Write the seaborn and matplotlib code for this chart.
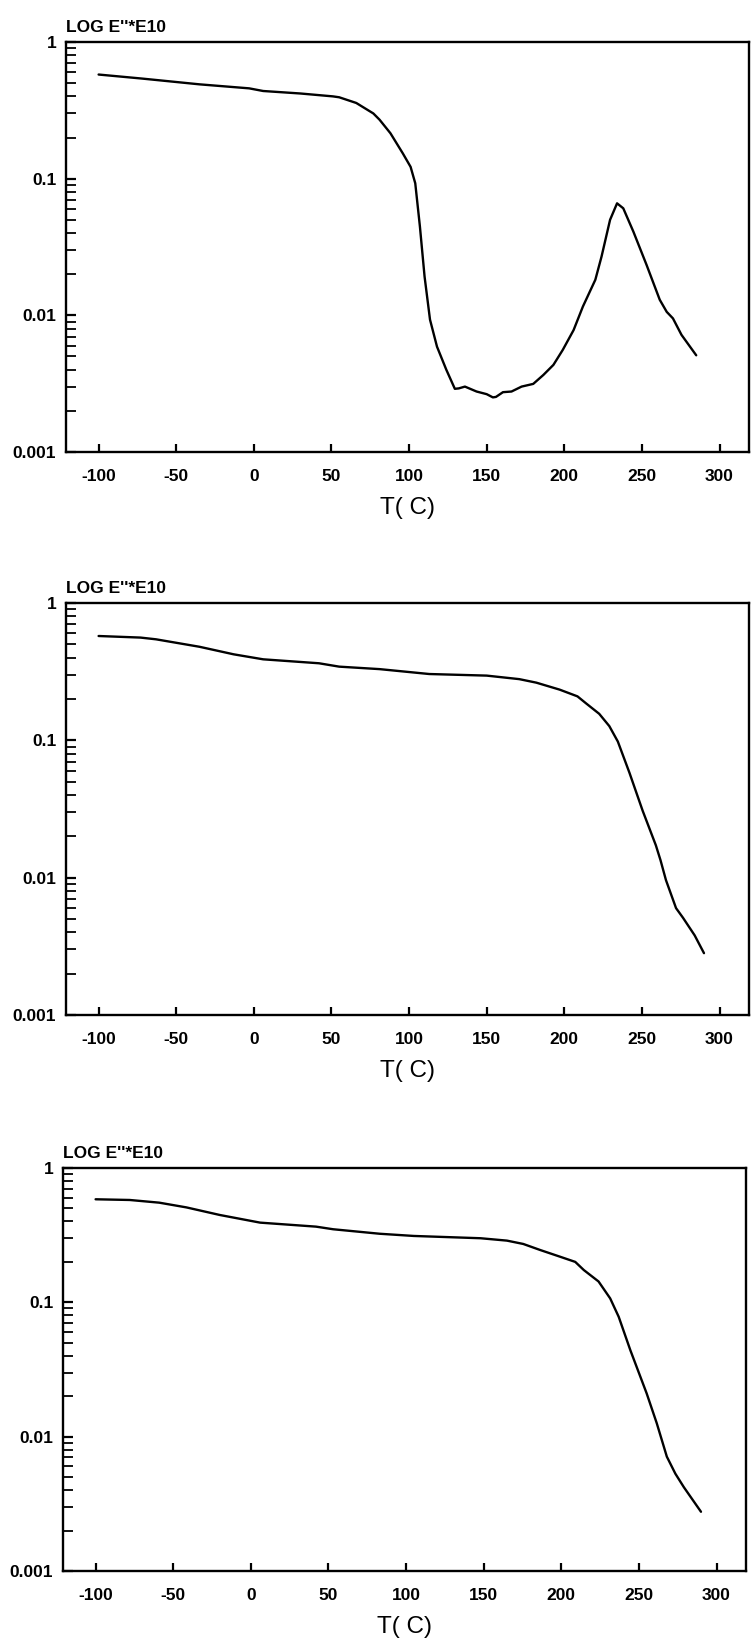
import matplotlib
matplotlib.use("Agg")
import matplotlib.pyplot as plt
from matplotlib.ticker import LogLocator, NullFormatter, FixedLocator, FixedFormatter
import seaborn as sns
import pandas as pd

# Loss modulus E'' (x 1e10) versus temperature, three specimens
temp_a = [-100, -72, -35, -3, 6, 30, 51, 55, 66, 77, 81, 88, 96, 101, 104, 107,
          110, 113.5, 118, 124, 129.5, 132, 136, 143.5, 150, 154, 156, 160.5,
          166, 172.5, 180, 186.5, 193, 199, 206, 212, 220, 224, 229.5, 234,
          238, 244.5, 253, 261.5, 266, 270, 275.5, 285]
modulus_a = [0.578, 0.54, 0.49, 0.458, 0.438, 0.42, 0.40, 0.394, 0.358, 0.30,
             0.27, 0.215, 0.153, 0.122, 0.0925, 0.0446, 0.0192, 0.0093, 0.0059,
             0.0040, 0.0029, 0.00292, 0.00301, 0.00277, 0.00265, 0.00251,
             0.00253, 0.00274, 0.00277, 0.00301, 0.00315, 0.00366, 0.00434,
             0.00558, 0.0078, 0.0116, 0.0182, 0.0269, 0.050, 0.066, 0.0607,
             0.041, 0.0234, 0.013, 0.0106, 0.0095, 0.0072, 0.0051]

temp_b = [-100, -73, -63, -35, -13, 6, 42, 55, 81, 113, 150, 171, 182, 197,
          208.5, 214, 222.5, 229, 234.5, 242, 250.5, 259, 262, 265.5, 272,
          276.5, 284, 290]
modulus_b = [0.575, 0.56, 0.544, 0.48, 0.423, 0.389, 0.364, 0.344, 0.33, 0.304,
             0.296, 0.279, 0.263, 0.234, 0.209, 0.186, 0.156, 0.127, 0.098,
             0.058, 0.0307, 0.0172, 0.0134, 0.0096, 0.006, 0.0051, 0.0038,
             0.00282]

temp_c = [-100, -78, -59, -41.5, -20, 6, 42, 53, 83, 105, 148, 165, 175.5,
          186.5, 199, 209, 214.5, 224, 231.5, 237, 244.5, 255, 261.5, 268,
          273.5, 279, 290]
modulus_c = [0.585, 0.578, 0.552, 0.509, 0.447, 0.392, 0.366, 0.35, 0.324,
             0.312, 0.30, 0.288, 0.272, 0.245, 0.219, 0.200, 0.174, 0.143,
             0.107, 0.078, 0.044, 0.021, 0.0126, 0.0071, 0.0053, 0.0042,
             0.00276]

x_ticks = [-100, -50, 0, 50, 100, 150, 200, 250, 300]
x_tick_labels = ["-100", "-50", "0", "50", "100", "150", "200", "250", "300"]
y_ticks = [0.001, 0.01, 0.1, 1]
y_tick_labels = ["0.001", "0.01", "0.1", "1"]
y_title = "LOG E''*E10"
x_title = "T( C)"

sns.set_style("white")
plt.rcParams["font.family"] = ["Liberation Sans", "DejaVu Sans"]

W, H = 751, 1648
fig = plt.figure(figsize=(W / 100, H / 100), dpi=100)

# panel boxes in pixels: left, top, right, bottom
boxes = [(66, 42, 749, 452), (66, 603, 749, 1015), (63, 1168, 746, 1571)]
series = [(temp_a, modulus_a), (temp_b, modulus_b), (temp_c, modulus_c)]

for (l, t, r, b), (tx, my) in zip(boxes, series):
    ax = fig.add_axes([l / W, 1 - b / H, (r - l) / W, (b - t) / H])
    df = pd.DataFrame({"T": tx, "E": my})
    sns.lineplot(data=df, x="T", y="E", ax=ax, color="black", lw=1.7,
                 sort=False, estimator=None)
    ax.set_yscale("log")
    ax.set_xlim(-121, 319)
    ax.set_ylim(0.001, 1)

    ax.xaxis.set_major_locator(FixedLocator(x_ticks))
    ax.xaxis.set_major_formatter(FixedFormatter(x_tick_labels))
    ax.yaxis.set_major_locator(FixedLocator(y_ticks))
    ax.yaxis.set_major_formatter(FixedFormatter(y_tick_labels))
    ax.yaxis.set_minor_locator(LogLocator(base=10, subs=range(2, 10)))
    ax.yaxis.set_minor_formatter(NullFormatter())
    ax.xaxis.set_minor_locator(FixedLocator([]))

    ax.tick_params(axis="both", which="both", direction="in", bottom=True,
                   left=True, top=False, right=False, color="black",
                   labelcolor="black")
    ax.tick_params(axis="x", which="major", length=6, width=1.6, pad=12,
                   labelsize=12.5)
    ax.tick_params(axis="y", which="major", length=7, width=1.6, pad=7,
                   labelsize=12.5)
    ax.tick_params(axis="y", which="minor", length=7, width=1.3)
    for lab in ax.get_xticklabels() + ax.get_yticklabels():
        lab.set_fontweight("bold")

    for sp in ax.spines.values():
        sp.set_visible(True)
        sp.set_color("black")
        sp.set_linewidth(1.7)

    ax.set_ylabel("")
    ax.set_xlabel(x_title, fontsize=17.5, color="black")
    ax.xaxis.set_label_coords(0.5, -45 / (b - t))
    ax.annotate(y_title, xy=(0, 1), xycoords="axes fraction",
                xytext=(0, 7), textcoords="offset points", color="black",
                ha="left", va="baseline", fontsize=12.5, fontweight="bold")

fig.savefig("out.png", dpi=100, facecolor="white")
